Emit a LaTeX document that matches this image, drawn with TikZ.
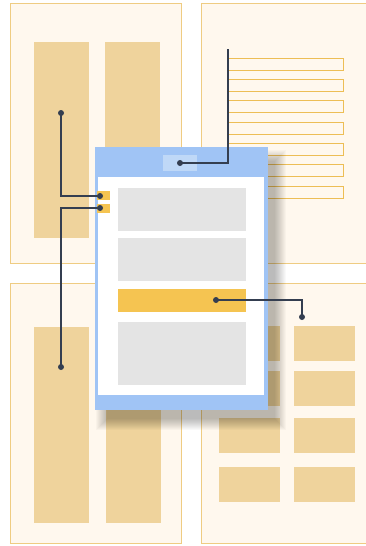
\documentclass[tikz,border=0pt]{standalone}
\definecolor{panelfill}{HTML}{FFF8EE}
\definecolor{panelborder}{HTML}{EFCC82}
\definecolor{barc}{HTML}{EFD39C}
\definecolor{rowborder}{HTML}{EDBE55}
\definecolor{bluec}{HTML}{A0C4F5}
\definecolor{hilite}{HTML}{BFD8F7}
\definecolor{greyc}{HTML}{E4E4E4}
\definecolor{orangec}{HTML}{F5C451}
\definecolor{darkc}{HTML}{343E50}
\begin{document}
\begin{tikzpicture}[x=1pt,y=-1pt,
  panel/.style={fill=panelfill,draw=panelborder,line width=1pt},
  barbox/.style={fill=barc},
  rowbox/.style={fill=panelfill,draw=rowborder,line width=0.9pt},
  conn/.style={draw=darkc,line width=2pt},
  dotc/.style={fill=darkc}]
\useasboundingbox (0,0) rectangle (366,546);
\clip (0,0) rectangle (366,546);
\fill[white] (0,0) rectangle (366,546);
% panels
\draw[panel] (10,3) rectangle (181,263);
\draw[panel] (201,3) rectangle (380,263);
\draw[panel] (10,283) rectangle (181,543);
\draw[panel] (201,283) rectangle (380,543);
% top-left bars
\fill[barbox] (34,42) rectangle (89,238);
\fill[barbox] (105,42) rectangle (160,238);
% top-right rows
\foreach \y in {58,79.3,100.7,122,143.3,164.7,186}
  \draw[rowbox] (228,\y) rectangle (343,\y+12);
% bottom-left bars
\fill[barbox] (34,327) rectangle (89,523);
\fill[barbox] (106,327) rectangle (161,523);
% bottom-right blocks
\foreach \y in {326,371,418,467}{
  \fill[barbox] (219,\y) rectangle (280,\y+35);
  \fill[barbox] (294,\y) rectangle (355,\y+35);
}
% window shadow
\foreach \i in {1,...,12}
  \fill[black,opacity=0.022] (108-\i,162-\i) rectangle (274+\i,418+\i);
% window
\fill[bluec] (95,147) rectangle (268,410);
\fill[white] (97.5,177) rectangle (264,395);
\fill[hilite] (163,155) rectangle (197,171);
\fill[greyc] (118,188) rectangle (246,231);
\fill[greyc] (118,238) rectangle (246,281);
\fill[orangec] (118,289) rectangle (246,312);
\fill[greyc] (118,322) rectangle (246,385);
\fill[orangec] (97,191) rectangle (110,200);
\fill[orangec] (97,204) rectangle (110,213);
% connector ends
\coordinate (hdr) at (180,163);
\coordinate (hdrtop) at (228,49);
\coordinate (tab1) at (100,196);
\coordinate (tab2) at (100,208);
\coordinate (tl) at (61,113);
\coordinate (bl) at (61,367);
\coordinate (ob) at (216,300);
\coordinate (br) at (302,317);
% connectors
\draw[conn] (hdrtop) |- (hdr);
\draw[conn] (tl) |- (tab1);
\draw[conn] (tab2) -| (bl);
\draw[conn] (ob) -| (br);
\foreach \p in {hdr,tab1,tab2,tl,bl,ob,br}
  \fill[dotc] (\p) circle (3);
\end{tikzpicture}
\end{document}
